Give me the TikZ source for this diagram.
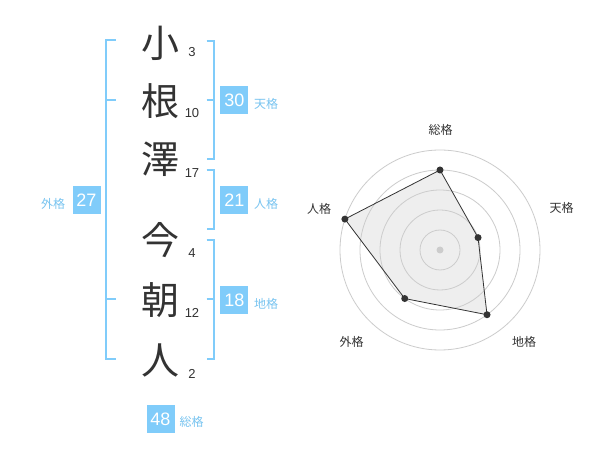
\documentclass[tikz,border=0pt]{standalone}
\usepackage{fontspec}
\usetikzlibrary{calc}
\setmainfont{Liberation Sans}
\newfontfamily\jp{Noto Sans CJK JP}
\definecolor{blu}{RGB}{128,204,250}
\definecolor{blutxt}{RGB}{120,196,240}
\definecolor{ink}{RGB}{51,51,51}
\definecolor{ring}{RGB}{204,204,204}
\definecolor{polyfill}{RGB}{238,238,238}
\begin{document}
\begin{tikzpicture}[x=1pt,y=-1pt,
  kanji/.style={anchor=base,inner sep=0pt,text=ink,font=\jp\fontsize{38}{38}\selectfont},
  strokes/.style={anchor=base,inner sep=0pt,text=ink,font=\fontsize{13}{13}\selectfont},
  numbox/.style={fill=blu,text=white,minimum width=28pt,minimum height=28pt,inner sep=0pt,font=\fontsize{18}{18}\selectfont},
  boxlabel/.style={text=blutxt,inner sep=0pt,font=\jp\fontsize{12}{12}\selectfont},
  brk/.style={draw=blu,line width=2pt},
  radlabel/.style={text=ink,inner sep=0pt,font=\jp\fontsize{12}{12}\selectfont},
  ringline/.style={draw=ring,line width=0.8pt},
  dot/.style={circle,fill=ink,inner sep=0pt,minimum size=7pt}]
\useasboundingbox (0,0) rectangle (600,470);
\fill[white] (0,0) rectangle (600,470);
% kanji
\node[kanji] (k1) at (160,57.5) {小};
\node[kanji] (k2) at (160,116) {根};
\node[kanji] (k3) at (160,174) {澤};
\node[kanji] (k4) at (160,255) {今};
\node[kanji] (k5) at (160,315) {朝};
\node[kanji] (k6) at (160,375) {人};
% stroke counts
\node[strokes] (s1) at (192,57) {3};
\node[strokes] (s2) at (192,117.5) {10};
\node[strokes] (s3) at (192,178) {17};
\node[strokes] (s4) at (192,257.5) {4};
\node[strokes] (s5) at (192,317.5) {12};
\node[strokes] (s6) at (192,378) {2};
% brackets
\draw[brk] (115.7,40) -- (105.7,40) -- (105.7,359.3) -- (115.7,359.3);
\draw[brk] (105.7,100) -- (115.7,100);
\draw[brk] (105.7,299.3) -- (115.7,299.3);
\draw[brk] (206.7,40.7) -- (214.3,40.7) -- (214.3,159.3) -- (206.7,159.3);
\draw[brk] (206.7,100) -- (214.3,100);
\draw[brk] (206.7,170) -- (214.3,170) -- (214.3,229.3) -- (206.7,229.3);
\draw[brk] (206.7,240) -- (214.3,240) -- (214.3,359.3) -- (206.7,359.3);
\draw[brk] (206.7,299.3) -- (214.3,299.3);
% boxes
\node[numbox] (gai) at (86.5,200) {27};
\node[boxlabel] (gail) at (53,204) {外格};
\node[numbox] (ten) at (234.3,100) {30};
\node[boxlabel] (tenl) at (266,104) {天格};
\node[numbox] (jin) at (234.3,200) {21};
\node[boxlabel] (jinl) at (266,204) {人格};
\node[numbox] (chi) at (234.3,300) {18};
\node[boxlabel] (chil) at (266,304) {地格};
\node[numbox] (sou) at (160.5,419) {48};
\node[boxlabel] (soul) at (191.7,422) {総格};
% radar
\coordinate (C) at (440,250);
\coordinate (p1) at ($(C)+(-90:80)$);
\coordinate (p2) at ($(C)+(-18:40)$);
\coordinate (p3) at ($(C)+(54:80)$);
\coordinate (p4) at ($(C)+(126:60)$);
\coordinate (p5) at ($(C)+(198:100)$);
\fill[polyfill] (p1) -- (p2) -- (p3) -- (p4) -- (p5) -- cycle;
\foreach \r in {20,40,60,80,100} \draw[ringline] (C) circle[radius=\r pt];
\fill[ring] (C) circle[radius=3.5pt];
\draw[ink,line width=0.8pt] (p1) -- (p2) -- (p3) -- (p4) -- (p5) -- cycle;
\foreach \p in {p1,p2,p3,p4,p5} \node[dot] at (\p) {};
\node[radlabel] (r1) at (440.7,130) {総格};
\node[radlabel] (r2) at (561.7,208.3) {天格};
\node[radlabel] (r3) at (524,342.3) {地格};
\node[radlabel] (r4) at (351.7,342.3) {外格};
\node[radlabel] (r5) at (319,209) {人格};
\end{tikzpicture}
\end{document}
